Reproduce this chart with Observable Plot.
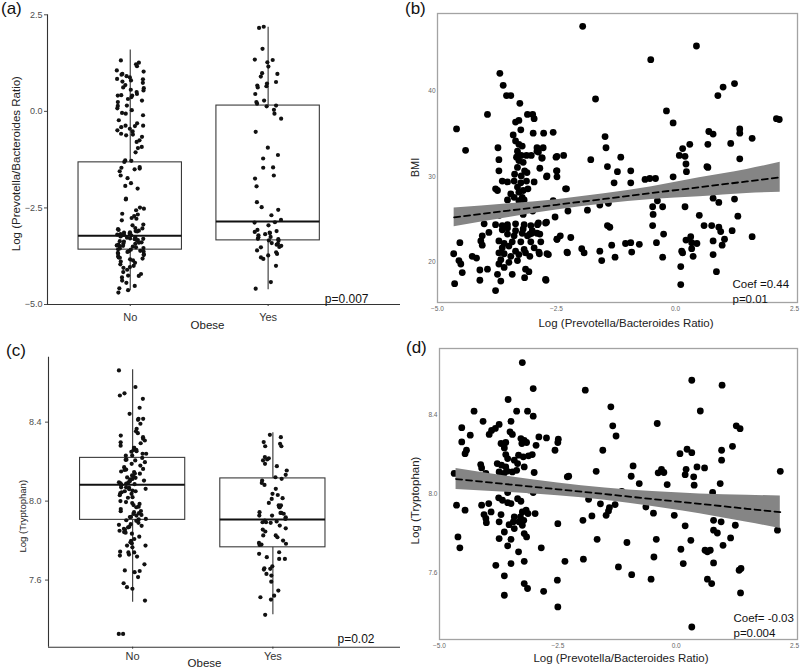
<!DOCTYPE html>
<html><head><meta charset="utf-8">
<script src="https://cdn.jsdelivr.net/npm/d3@7"></script>
<script src="https://cdn.jsdelivr.net/npm/@observablehq/plot@0.6"></script>
<style>
body{margin:0;background:#fff;}
#wrap{position:relative;width:800px;height:669px;overflow:hidden;font-family:"Liberation Sans",Arial,sans-serif;background:#fff;}
#wrap svg{position:absolute;}
.tag{position:absolute;font-size:17px;line-height:1;color:#111;}
</style></head><body><div id="wrap"></div>
<script>
// ---------- data ----------
const obeseCats = ["No", "Yes"];

// (a) Log(Prevotella/Bacteroides ratio) by obesity
const ratioNo = [1.32,1.26,1.22,1.17,1.06,1.03,0.97,0.91,0.95,0.88,0.84,0.83,0.80,0.77,0.74,0.68,0.62,0.56,0.60,0.54,0.50,0.45,0.41,0.37,0.41,0.42,0.32,0.28,0.24,0.15,0.08,0.14,0.03,-0.04,-0.06,-0.10,-0.23,-0.37,-0.41,-0.45,-0.49,-0.52,-0.60,-0.31,-0.37,-0.38,-0.58,-0.62,-0.66,-0.75,-0.79,-0.92,-1.06,-0.95,-1.27,-1.31,-1.28,-1.48,-1.46,-1.50,-1.44,-1.55,-1.66,-1.73,-1.86,-1.93,-2.00,-2.28,-2.26,-2.52,-2.49,-2.56,-2.65,-2.67,-2.76,-2.82,-2.71,-2.78,-2.93,-2.95,
  -3.02,-3.05,-3.03,-3.07,-3.09,-3.10,-3.13,-3.14,-3.11,-3.16,-3.18,-3.20,-3.22,-3.19,-3.24,-3.21,-3.26,-3.29,-3.30,-3.27,-3.31,-3.33,-3.36,-3.37,-3.34,-3.39,-3.40,-3.42,-3.45,-3.43,-3.47,-3.48,-3.50,-3.52,-3.49,-3.54,-3.57,-3.58,-3.55,-3.61,-3.62,-3.64,-3.66,-3.63,-3.70,-3.72,-3.75,-3.68,-3.78,-3.81,-3.83,-3.79,-3.86,-3.89,-3.92,-3.96,
  -4.00,-4.05,-4.10,-4.21,-4.25,-4.03,-4.16,-4.26,-4.30,-4.38,-4.44,-4.52,-4.58,-4.63,-4.69];
const ratioYes = [2.16,2.19,1.62,1.33,1.34,1.27,1.16,0.99,0.97,0.90,0.76,0.72,0.67,0.65,0.62,0.45,0.24,0.15,0.13,0.28,0.20,0.04,-0.06,-0.19,-0.53,-0.94,-1.13,-1.22,-1.45,-1.46,-1.66,-1.74,-1.94,-2.35,-2.48,-2.55,-2.69,-2.81,-2.87,-2.95,-2.88,-3.07,-3.12,-3.15,-3.18,-3.21,-3.10,-3.14,-3.25,-3.30,-3.34,-3.31,-3.35,-3.26,-3.41,-3.45,-3.48,-3.51,-3.43,-3.52,-3.60,-3.65,-3.69,-3.73,-3.78,-3.82,-4.00,-4.42,-4.59];
const ratioLo  = [-4.64, -4.62];
const ratioQ1  = [-3.58, -3.34];
const ratioMed = [-3.22, -2.85];
const ratioQ3  = [-1.32, 0.15];
const ratioHi  = [1.59, 2.18];
const ratioTicks = [-5, -2.5, 0, 2.5];

// (c) Log(Tryptophan) by obesity
const tryNo = [8.662,8.578,8.546,8.518,8.535,8.442,8.473,8.417,8.417,8.412,8.392,8.366,8.344,8.354,8.316,8.307,8.298,8.332,8.324,8.293,8.281,8.27,8.259,8.27,8.26,8.253,8.25,8.24,8.231,8.23,8.219,8.24,8.21,8.206,8.197,8.189,8.18,8.209,8.172,8.163,8.16,8.158,8.147,8.15,8.139,8.13,8.12,8.14,8.112,8.118,8.125,8.11,8.104,8.1,8.095,8.09,8.083,8.086,8.08,8.089,8.095,8.07,8.062,8.067,8.06,8.053,8.07,8.045,8.05,8.037,8.04,8.05,8.03,8.017,8.02,8.0,7.995,7.99,7.986,7.98,7.972,7.969,7.96,7.944,7.95,7.935,7.949,7.939,7.93,7.927,7.919,7.92,7.91,7.907,7.9,7.903,7.89,7.883,7.88,7.875,7.867,7.87,7.855,7.85,7.843,7.86,7.835,7.84,7.82,7.808,7.799,7.786,7.775,7.791,7.744,7.719,7.766,7.74,7.775,7.724,7.729,7.74,7.649,7.646,7.68,7.64,7.615,7.584,7.556,7.564,7.496,7.327,7.327];
const tryYes = [8.336,8.324,8.29,8.278,8.299,8.278,8.223,8.211,8.206,8.217,8.189,8.177,8.155,8.133,8.121,8.113,8.104,8.092,8.082,8.031,8.037,8.015,8.011,7.991,8.062,7.978,7.969,7.978,7.969,7.94,7.927,7.94,7.936,7.944,7.927,7.918,7.91,7.893,7.89,7.897,7.901,7.893,7.876,7.862,7.856,7.846,7.826,7.817,7.8,7.826,7.788,7.784,7.78,7.778,7.741,7.733,7.716,7.707,7.707,7.67,7.66,7.653,7.657,7.623,7.631,7.592,7.547,7.521,7.501,7.513,7.424];
const tryLo  = [7.488, 7.425];
const tryQ1  = [7.905, 7.766];
const tryMed = [8.083, 7.907];
const tryQ3  = [8.219, 8.115];
const tryHi  = [8.665, 8.346];
const tryTicks = [7.6, 8.0, 8.4];

// (b) BMI vs Log(Prevotella/Bacteroides ratio): [ratio, BMI]
const bmiVsRatio = [
[-3.69,42.1],[-3.62,40.7],[-3.55,39.5],[-3.46,39.5],[-3.27,38.6],[-3.95,37.3],[-3.11,37.3],[-3.0,37.3],[-2.97,36.8],[-3.36,36.4],[-3.29,36.6],[-4.6,35.6],[-3.25,35.5],[-3.41,34.9],[-2.99,35.1],[-2.57,35.2],[-3.36,34.2],[-3.29,33.8],[-3.22,33.6],[-3.73,33.4],[-2.91,33.4],[-4.41,33.1],[-3.32,33.0],[-2.91,33.0],
[-3.71,32.0],[-3.34,32.3],[-3.24,32.5],[-3.13,32.5],[-3.03,32.5],[-2.8,32.2],[-2.49,32.4],[-2.35,32.5],
[-3.29,31.9],[-3.2,31.7],[-3.71,30.7],[-3.32,31.1],[-3.17,30.7],[-2.85,31.0],[-2.49,30.7],[-3.38,30.3],[-3.24,30.1],[-3.12,30.5],[-2.7,30.1],
[-3.64,29.5],[-3.53,29.4],[-3.39,29.5],[-3.25,29.3],[-3.13,29.5],[-2.97,29.4],[-3.32,28.8],[-3.2,28.4],[-3.1,28.6],[-3.29,28.2],[-3.78,28.6],[-3.74,28.4],[-2.31,28.6],[-3.46,28.0],[-3.39,27.6],[-3.22,27.6],[-3.53,27.3],[-3.29,27.2],[-3.18,27.3],[-3.6,26.4],[-3.32,26.4],
[-3.5,25.8],[-3.2,25.6],[-3.0,26.0],[-3.7,25.5],
[-4.02,24.5],[-3.78,24.4],[-3.64,24.3],[-3.53,24.4],[-3.36,24.5],[-3.18,24.4],[-3.04,24.3],[-2.9,24.4],[-3.64,23.8],[-3.53,24.0],[-3.36,23.7],[-3.2,23.9],[-3.01,23.7],[-2.73,24.6],
[-3.53,23.3],[-3.39,23.1],[-3.22,23.4],[-3.11,23.1],[-2.91,23.4],[-3.92,23.5],[-4.06,23.1],[-4.09,22.5],
[-3.71,22.5],[-3.6,22.2],[-3.43,22.4],[-3.25,22.4],[-3.04,22.4],[-2.83,22.4],[-2.49,22.7],[-2.42,23.1],[-4.53,22.3],
[-3.64,21.7],[-3.5,21.9],[-3.36,21.3],[-3.18,21.5],[-2.97,21.7],[-4.06,22.0],
[-3.6,21.0],[-3.46,20.7],[-3.29,20.9],[-3.15,21.1],[-3.71,21.1],[-3.67,20.3],[-2.87,21.2],[-2.7,21.0],[-2.28,21.2],
[-4.66,21.0],[-4.55,20.2],[-4.51,19.8],[-4.48,18.8],[-4.27,20.7],[-4.18,20.5],[-3.5,20.0],[-3.32,20.2],[-3.71,19.8],[-3.6,19.4],[-3.95,19.2],[-4.11,19.1],[-3.15,19.2],[-3.08,18.9],[-3.74,18.6],[-3.43,18.6],[-4.11,17.9],[-3.67,17.8],[-3.17,18.2],[-2.73,18.0],[-4.64,17.5],[-3.78,16.7],
[-2.77,35.1],[-2.78,33.4],[-2.88,32.9],[-2.51,32.3],[-2.81,32.2],[-2.71,30.0],[-2.5,30.7],[-2.49,30.0],[-2.29,28.6],[-2.57,27.2],[-2.53,25.3],[-2.26,26.0],[-2.49,22.7],[-2.2,22.9],[-2.27,21.1],[-2.71,24.7],[-2.88,24.6],[-2.85,23.3],[-2.86,21.0],[-2.67,20.9],[-2.72,17.9],[-3.06,20.7],[-3.06,23.3],[-3.02,23.4],[-1.97,21.6],[-1.92,21.1],
[-1.95,47.6],[-1.78,32.0],[-1.85,26.1],[-1.68,39.1],[-1.59,21.3],[-1.55,20.2],[-1.59,26.7],[-1.41,26.9],[-1.48,34.7],[-1.46,33.4],[-1.43,31.2],[-1.43,24.3],[-1.38,24.1],[-1.34,22.0],[-1.27,20.6],[-1.22,30.6],[-1.15,32.3],[-1.29,29.3],[-1.05,22.2],[-0.94,22.3],[-0.94,30.7],[-0.94,29.3],[-0.92,21.2],[-0.76,22.1],[-0.64,29.7],[-0.54,29.8],[-0.42,29.8],[-0.52,43.7],[-0.48,26.5],[-0.47,25.6],[-0.48,24.3],[-0.4,22.3],[-0.38,27.2],[-0.27,26.5],[-0.27,20.6],[-0.25,23.3],[-0.19,37.7],[-0.05,36.3],[-0.05,30.0],
[0.08,32.5],[0.15,33.3],[0.2,32.4],[0.22,31.5],[0.23,30.6],[0.13,21.3],[0.15,21.1],[0.11,19.5],[0.11,17.4],[0.2,26.5],[0.22,22.6],[0.3,33.8],[0.32,23.0],[0.34,22.3],[0.34,21.6],[0.37,20.7],[0.44,45.3],[0.45,22.2],[0.5,25.5],[0.6,24.3],[0.68,33.8],[0.66,31.2],[0.68,31.1],[0.7,35.3],[0.79,35.0],[0.79,27.5],[0.91,27.0],[0.76,24.3],[0.91,24.1],[0.95,23.6],[1.03,22.7],[0.79,22.5],[0.79,20.9],[0.86,18.9],[0.98,22.0],[0.89,39.5],[1.0,40.5],[1.24,40.9],[1.16,33.9],[1.19,23.7],[1.24,27.4],[1.31,25.4],[1.35,35.6],[1.35,35.1],[1.35,32.1],[1.61,34.5],[1.61,23.0],[2.12,36.8],[2.18,36.7]
];
const bmiTicks = [20, 30, 40];
const fitBx  = [-4.65, -3.5, -2.5, -1.5, -0.5, 0.5, 1.5, 2.2];
const fitBy  = [25.26, 26.05, 26.73, 27.41, 28.10, 28.78, 29.46, 29.94];
const fitBlo = [24.16, 25.25, 26.13, 26.81, 27.35, 27.68, 28.06, 28.19];
const fitBhi = [26.36, 26.85, 27.33, 28.01, 28.85, 29.88, 30.86, 31.69];

// (d) Log(Tryptophan) vs Log(Prevotella/Bacteroides ratio): [ratio, tryptophan]
const tryVsRatio = [
[-3.25,8.662],[-3.02,8.531],[-3.55,8.476],[-4.27,8.417],[-3.37,8.417],[-3.14,8.417],[-3.02,8.392],[-4.08,8.366],[-3.49,8.366],[-4.53,8.334],[-3.9,8.32],[-3.82,8.33],[-3.74,8.35],[-3.95,8.30],[-3.51,8.313],[-3.46,8.30],[-4.35,8.296],[-4.53,8.262],[-3.28,8.279],[-3.21,8.27],[-3.16,8.259],[-3.26,8.254],[-2.9,8.287],[-2.74,8.282],[-2.49,8.276],[-2.5,8.259],[-3.7,8.254],[-3.6,8.259],[-3.63,8.232],[-2.96,8.245],[-4.43,8.22],[-4.46,8.203],[-2.56,8.22],[-3.33,8.195],[-3.23,8.187],[-3.12,8.192],[-3.04,8.198],[-3.6,8.198],[-3.56,8.178],[-3.42,8.17],[-3.35,8.153],[-3.78,8.153],[-3.69,8.145],[-3.6,8.136],[-4.13,8.148],[-4.11,8.131],[-3.21,8.136],[-3.37,8.119],[-3.46,8.111],[-3.74,8.111],[-3.64,8.103],[-3.57,8.114],[-3.0,8.108],[-4.69,8.103],[-2.3,8.086],[-2.27,8.089],[-4.02,8.103],
[-3.5,8.05],[-3.3,8.04],[-3.8,8.06],[-3.1,8.02],
[-3.56,8.007],[-3.02,8.007],[-3.75,7.98],[-3.67,7.968],[-3.56,7.956],[-3.49,7.951],[-3.35,7.976],[-3.28,7.963],[-4.64,7.943],[-4.46,7.918],[-4.11,7.943],[-3.96,7.951],[-3.91,7.909],[-4.06,7.896],[-4.02,7.876],[-4.01,7.855],[-3.7,7.896],[-3.25,7.909],[-3.17,7.918],[-3.13,7.901],[-3.29,7.884],[-3.22,7.867],[-3.32,7.859],[-3.25,7.842],[-3.42,7.884],[-3.44,7.859],[-2.98,7.901],[-3.74,7.859],[-3.53,7.845],[-3.42,7.825],[-3.63,7.808],[-3.21,7.8],[-3.16,7.783],[-3.74,7.775],[-3.49,7.771],[-2.5,7.85],[-4.61,7.783],[-4.57,7.728],[-3.56,7.738],[-3.33,7.708],[-2.85,7.728],[-3.21,7.66],[-3.49,7.649],[-3.81,7.64],[-2.35,7.66],[-3.63,7.587],[-2.51,7.565],[-3.21,7.548],[-3.14,7.523],[-2.8,7.509],[-3.63,7.489],[-2.5,7.43],
[-1.92,8.523],[-1.97,7.867],[-1.96,7.671],[-1.78,7.889],[-1.85,7.973],[-1.69,8.114],[-1.67,7.771],[-1.6,7.95],[-1.55,8.22],[-1.48,7.892],[-1.43,7.914],[-1.41,7.931],[-1.38,8.439],[-1.34,8.343],[-1.27,8.292],[-1.29,7.946],[-1.22,7.632],[-1.15,8.013],[-1.04,7.755],[-0.95,8.089],[-0.91,8.141],[-0.94,7.593],[-0.78,8.052],[-0.64,7.934],[-0.53,7.57],[-0.48,7.903],[-0.42,7.771],[-0.47,7.682],[-0.4,8.355],[-0.38,8.106],[-0.31,8.124],[-0.26,8.108],[-0.19,8.047],[-0.04,7.892],[0.08,8.203],[0.1,7.721],[0.15,7.649],[0.19,7.839],[0.19,8.097],[0.21,8.124],[0.23,8.225],[0.33,8.208],[0.31,7.766],[0.33,8.573],[0.37,8.086],[0.38,8.044],[0.33,7.329],[0.44,8.136],[0.51,8.418],[0.6,8.131],[0.61,7.716],[0.66,7.708],[0.72,7.716],[0.66,7.57],[0.75,7.548],[0.77,8.007],[0.79,7.867],[0.79,7.817],[0.87,7.803],[0.79,7.652],[0.93,8.052],[0.95,7.859],[0.96,8.17],[0.96,8.22],[0.97,8.548],[0.99,7.741],[1.15,7.778],[1.19,8.24],[1.25,7.842],[1.27,8.343],[1.35,8.329],[1.33,7.615],[1.37,7.624],[1.36,7.501],[2.14,7.817],[2.2,8.114]
];
const fitDx  = [-4.65, -3.5, -2.5, -1.5, -0.5, 0.5, 1.5, 2.2];
const fitDy  = [8.075, 8.047, 8.023, 7.999, 7.974, 7.950, 7.925, 7.908];
const fitDlo = [8.022, 8.007, 7.991, 7.968, 7.936, 7.900, 7.857, 7.826];
const fitDhi = [8.128, 8.087, 8.055, 8.030, 8.012, 8.000, 7.993, 7.990];

// ---------- rendering ----------
const FONT = "Liberation Sans, Arial, sans-serif";
const wrap = document.getElementById("wrap");

function place(svg, left, top) {
  svg.style.left = left + "px";
  svg.style.top = top + "px";
  wrap.appendChild(svg);
}
function tag(text, left, top) {
  const d = document.createElement("div");
  d.className = "tag"; d.textContent = text;
  d.style.left = left + "px"; d.style.top = top + "px";
  wrap.appendChild(d);
}

function boxPanel(o) {
  const stats = obeseCats.map((c, i) => ({pos: i + 1, lo: o.lo[i], q1: o.q1[i], med: o.med[i], q3: o.q3[i], hi: o.hi[i]}));
  const jit = d3.randomUniform.source(d3.randomLcg(o.seed))(-0.1, 0.1);
  const pts = o.vals.flatMap((arr, i) => arr.map(v => ({pos: i + 1 + jit(), v})));
  const hw = 0.375;
  return Plot.plot({
    width: 400, height: o.height,
    marginLeft: o.m[0], marginRight: o.m[1], marginTop: o.m[2], marginBottom: o.m[3],
    x: {domain: o.xDomain},
    y: {domain: o.yDomain},
    style: {fontFamily: FONT, background: "transparent", overflow: "visible"},
    marks: [
      Plot.ruleX(stats, {x: "pos", y1: "lo", y2: "hi", stroke: "#333", strokeWidth: 1.1}),
      Plot.rect(stats, {x1: d => d.pos - hw, x2: d => d.pos + hw, y1: "q1", y2: "q3", fill: "#fff", stroke: "#3a3a3a", strokeWidth: 1.1}),
      Plot.ruleY(stats, {x1: d => d.pos - hw, x2: d => d.pos + hw, y: "med", stroke: "#111", strokeWidth: 2}),
      Plot.dot(pts, {x: "pos", y: "v", r: 2.1, fill: "#111", stroke: null}),
      Plot.ruleX([o.xDomain[0]], {stroke: "#333", strokeWidth: 1.1}),
      Plot.ruleY([o.yDomain[0]], {stroke: "#333", strokeWidth: 1.1}),
      Plot.axisY({ticks: o.yTicks, tickFormat: d3.format(".1f"), tickSize: 3, tickPadding: o.yPad, fontSize: 9, color: "#4d4d4d", label: null}),
      Plot.axisX({ticks: [1, 2], tickFormat: d => obeseCats[d - 1], tickSize: 2, tickPadding: o.xPad, fontSize: 11, color: "#333", label: null}),
      Plot.text([o.yLabel], {frameAnchor: "left", textAnchor: "middle", lineAnchor: "middle", rotate: -90, dx: o.yl[0], dy: o.yl[1], fontSize: o.ylSize, fill: "#222"}),
      Plot.text(["Obese"], {frameAnchor: "bottom", textAnchor: "middle", lineAnchor: "middle", dx: o.xl[0], dy: o.xl[1], fontSize: 11.5, fill: "#222"}),
      Plot.text([o.pText], {frameAnchor: "bottom-right", textAnchor: "end", lineAnchor: "bottom", dx: o.pd[0], dy: o.pd[1], fontSize: 12, fill: "#111"})
    ]
  });
}

function scatterPanel(o) {
  const fit = o.fx.map((x, i) => ({x, y: o.fy[i], lo: o.flo[i], hi: o.fhi[i]}));
  return Plot.plot({
    width: 400, height: o.height,
    marginLeft: o.m[0], marginRight: o.m[1], marginTop: o.m[2], marginBottom: o.m[3],
    x: {domain: [-5, 2.5]},
    y: {domain: o.yDomain},
    style: {fontFamily: FONT, background: "transparent", overflow: "visible"},
    marks: [
      Plot.dot(o.pts, {x: d => d[0], y: d => d[1], r: 3.4, fill: "#000", stroke: null}),
      Plot.areaY(fit, {x: "x", y1: "lo", y2: "hi", fill: "#858585", curve: "monotone-x"}),
      Plot.lineY(fit, {x: "x", y: "y", stroke: "#000", strokeWidth: 1.8, strokeDasharray: "6,4"}),
      Plot.frame({stroke: "#a3a3a3", strokeWidth: 1.3, insetRight: -3}),
      Plot.axisX({ticks: ratioTicks, tickFormat: d3.format(".1f"), tickSize: 0, tickPadding: 4, fontSize: 6.5, color: "#666", label: null}),
      Plot.axisY({ticks: o.yTicks, tickFormat: o.yFmt, tickSize: 0, tickPadding: 2, fontSize: 6.5, color: "#666", label: null}),
      Plot.text([o.yLabel], {frameAnchor: "left", textAnchor: "middle", lineAnchor: "middle", rotate: -90, dx: o.yl[0], dy: o.yl[1], fontSize: o.ylSize, fill: "#222"}),
      Plot.text(["Log (Prevotella/Bacteroides Ratio)"], {frameAnchor: "bottom", textAnchor: "middle", lineAnchor: "middle", dx: o.xl[0], dy: o.xl[1], fontSize: 11.5, fill: "#222"}),
      Plot.text([o.note], {frameAnchor: "bottom-right", textAnchor: "start", lineAnchor: "bottom", lineHeight: 1.25, dx: o.nd[0], dy: o.nd[1], fontSize: 11.5, fill: "#111"})
    ]
  });
}

// (a)
place(boxPanel({
  vals: [ratioNo, ratioYes], lo: ratioLo, q1: ratioQ1, med: ratioMed, q3: ratioQ3, hi: ratioHi,
  height: 334, m: [47, 0, 14.3, 30], xDomain: [0.4, 2.96], yDomain: [-5, 2.5], yTicks: ratioTicks,
  yPad: 2, xPad: 7, yLabel: "Log (Prevotella/Bacteroides Ratio)", ylSize: 11.5, yl: [-31, 4], xl: [-16.5, 21],
  pText: "p=0.007", pd: [-32, -2], seed: 0.137
}), 0, 0);

// (b)
place(scatterPanel({
  pts: bmiVsRatio, fx: fitBx, fy: fitBy, flo: fitBlo, fhi: fitBhi,
  height: 334, m: [37, 6, 13, 32], yDomain: [15.3, 49.1], yTicks: bmiTicks, yFmt: d3.format("d"),
  yLabel: "BMI", ylSize: 11, yl: [-22, 9.5], xl: [10, 21], note: "Coef =0.44\np=0.01", nd: [-62, 0]
}), 400, 0);

// (c)
place(boxPanel({
  vals: [tryNo, tryYes], lo: tryLo, q1: tryQ1, med: tryMed, q3: tryQ3, hi: tryHi,
  height: 335, m: [48, 0, 22.7, 22.3], xDomain: [0.4, 2.91], yDomain: [7.26, 8.729], yTicks: tryTicks,
  yPad: 4, xPad: 3, yLabel: "Log (Tryptophan)", ylSize: 9.5, yl: [-26, 14], xl: [-20, 16.5],
  pText: "p=0.02", pd: [-26, -4.5], seed: 0.731
}), 0, 334);

// (d)
place(scatterPanel({
  pts: tryVsRatio, fx: fitDx, fy: fitDy, flo: fitDlo, fhi: fitDhi,
  height: 335, m: [39, 6, 14, 30], yDomain: [7.266, 8.733], yTicks: tryTicks, yFmt: d3.format(".1f"),
  yLabel: "Log (Tryptophan)", ylSize: 11.5, yl: [-24, 6.5], xl: [4, 19.3], note: "Coef= -0.03\np=0.004", nd: [-61, -3]
}), 400, 334);

tag("(a)", 1, 0);
tag("(b)", 405, 0);
tag("(c)", 6, 342);
tag("(d)", 406, 339);
</script>
</body></html>
